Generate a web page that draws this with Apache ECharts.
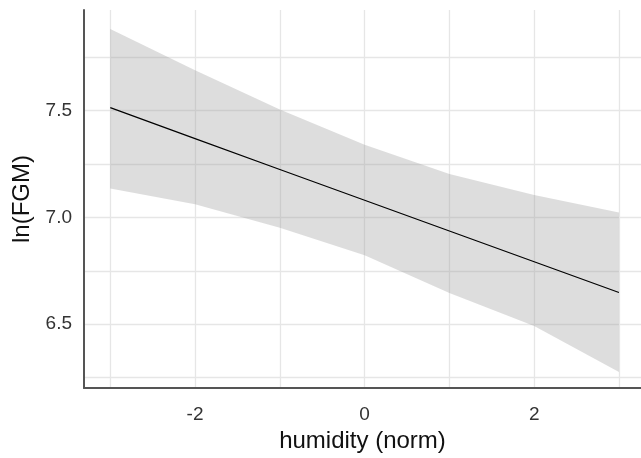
<!DOCTYPE html>
<html><head><meta charset="utf-8">
<script src="https://cdn.jsdelivr.net/npm/echarts@6/dist/echarts.min.js"></script>
<style>html,body{margin:0;padding:0;background:#fff}#c{width:641px;height:458px}</style>
</head><body><div id="c"></div>
<script>
const xValues = [-3, -2, -1, 0, 1, 2, 3];
const fitValues = [7.513, 7.368, 7.224, 7.080, 6.936, 6.792, 6.648];
const upperValues = [7.881, 7.688, 7.505, 7.339, 7.203, 7.105, 7.023];
const lowerValues = [7.135, 7.061, 6.951, 6.823, 6.646, 6.492, 6.276];
const xGridValues = [-3, -2, -1, 0, 1, 2, 3];
const xTickLabels = [-2, 0, 2];
const yGridValues = [6.25, 6.5, 6.75, 7.0, 7.25, 7.5, 7.75];
const yTickLabels = [6.5, 7.0, 7.5];

const chart = echarts.init(document.getElementById('c'), null, {renderer: 'canvas'});
const font = 'Liberation Sans, Arial, sans-serif';
const bandData = xValues.map((x, i) => [x, lowerValues[i], upperValues[i]]);
const fitData = xValues.map((x, i) => [x, fitValues[i]]);

chart.setOption({
  animation: false,
  backgroundColor: '#fff',
  grid: {left: 84, right: 0, top: 10, bottom: 65, containLabel: false},
  xAxis: {
    type: 'value', min: -3.31, max: 3.26,
    name: 'humidity (norm)', nameLocation: 'middle', nameGap: 39,
    nameTextStyle: {fontFamily: font, fontSize: 24, color: '#111'},
    axisLine: {show: true, onZero: false, lineStyle: {color: '#555', width: 2}},
    axisTick: {show: false, customValues: xGridValues},
    axisLabel: {customValues: xTickLabels, fontFamily: font, fontSize: 19, color: '#333', margin: 17,
      formatter: v => String(v)},
    splitLine: {show: true, lineStyle: {color: '#e6e6e6', width: 1.3}}
  },
  yAxis: {
    type: 'value', min: 6.201, max: 7.970,
    name: 'ln(FGM)', nameLocation: 'middle', nameGap: 49, nameRotate: 90,
    nameTextStyle: {fontFamily: font, fontSize: 24, color: '#111'},
    axisLine: {show: true, onZero: false, lineStyle: {color: '#555', width: 2}},
    axisTick: {show: false, customValues: yGridValues},
    axisLabel: {customValues: yTickLabels, fontFamily: font, fontSize: 19, color: '#333', margin: 12,
      formatter: v => v.toFixed(1)},
    splitLine: {show: true, lineStyle: {color: '#e6e6e6', width: 1.3}}
  },
  series: [
    {
      type: 'custom',
      data: bandData,
      encode: {x: 0, y: [1, 2]},
      z: 2,
      renderItem: function (params, api) {
        if (params.dataIndex !== 0) return null;
        const pts = [];
        for (let i = 0; i < bandData.length; i++) pts.push(api.coord([bandData[i][0], bandData[i][2]]));
        for (let i = bandData.length - 1; i >= 0; i--) pts.push(api.coord([bandData[i][0], bandData[i][1]]));
        return {type: 'polygon', shape: {points: pts}, style: {fill: 'rgba(150,150,150,0.32)', stroke: null}};
      }
    },
    {
      type: 'line', data: fitData, showSymbol: false, z: 3,
      lineStyle: {color: '#000', width: 1.2}
    }
  ]
});
</script>
</body></html>
